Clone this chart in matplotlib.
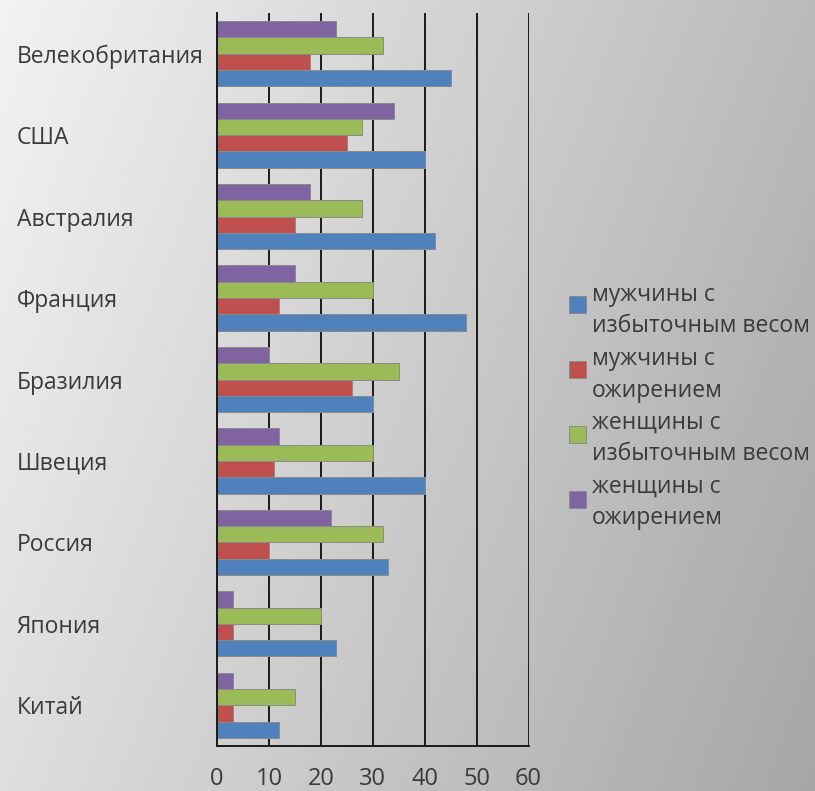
import numpy as np
import matplotlib
matplotlib.use("Agg")
import matplotlib.pyplot as plt
from matplotlib.patches import Rectangle

plt.rcParams["font.family"] = ["Open Sans", "DejaVu Sans"]

countries = ["Велекобритания", "США", "Австралия", "Франция", "Бразилия",
             "Швеция", "Россия", "Япония", "Китай"]
men_overweight = [45, 40, 42, 48, 30, 40, 33, 23, 12]
men_obese = [18, 25, 15, 12, 26, 11, 10, 3, 3]
women_overweight = [32, 28, 28, 30, 35, 30, 32, 20, 15]
women_obese = [23, 34, 18, 15, 10, 12, 22, 3, 3]
series_labels = ["мужчины с\nизбыточным весом", "мужчины с\nожирением",
                 "женщины с\nизбыточным весом", "женщины с\nожирением"]
x_ticks = [0, 10, 20, 30, 40, 50, 60]

colors = ["#4F81BD", "#C0504D", "#9BBB59", "#8064A2"]
text_color = "#3a3a3a"
W, H = 815, 791

fig = plt.figure(figsize=(W / 100, H / 100), dpi=100)

# gradient background over the whole figure
bg = fig.add_axes([0, 0, 1, 1], zorder=-10)
gx, gy = np.meshgrid(np.linspace(0, 1, 400), np.linspace(0, 1, 400))
shade = 0.95 - 0.22 * gx - 0.08 * gy
bg.imshow(shade, cmap="gray", vmin=0, vmax=1, extent=[0, 1, 1, 0], aspect="auto")
bg.axis("off")

ax = fig.add_axes([217 / W, 1 - 746 / H, 311.5 / W, 733 / H])
ax.set_facecolor("none")

y = np.arange(len(countries))
w = 0.2
data = [men_overweight, men_obese, women_overweight, women_obese]
offsets = [1.5 * w, 0.5 * w, -0.5 * w, -1.5 * w]
for vals, off, col in zip(data, offsets, colors):
    ax.barh(y + off, vals, height=w, color=col, edgecolor="#8a8a8a",
            linewidth=0.7, zorder=3)

ax.set_xlim(0, 60)
ax.set_ylim(-0.5, len(countries) - 0.5)
ax.invert_yaxis()
ax.set_xticks(x_ticks)
ax.set_xticklabels([str(t) for t in x_ticks])
ax.set_yticks(y)
ax.set_yticklabels(countries, ha="left")
ax.tick_params(axis="y", length=0, pad=144, labelsize=16.5, labelcolor=text_color)
ax.tick_params(axis="x", length=0, pad=15, labelsize=17, labelcolor=text_color)
ax.xaxis.grid(True, color="#1a1a1a", linewidth=1.4, zorder=1)
ax.set_axisbelow(True)
for side in ["top", "right"]:
    ax.spines[side].set_visible(False)
for side in ["left", "bottom"]:
    ax.spines[side].set_color("#1a1a1a")
    ax.spines[side].set_linewidth(1.4)
    ax.spines[side].set_zorder(4)

# legend drawn by hand to get the wide two-line spacing of the original
for i, (lab, col) in enumerate(zip(series_labels, colors)):
    base = 301 + 64 * i
    sq_top = 296 + 65 * i
    fig.add_artist(Rectangle((569 / W, 1 - (sq_top + 17) / H), 17 / W, 17 / H,
                             transform=fig.transFigure, facecolor=col,
                             edgecolor="#8a8a8a", linewidth=0.7))
    for j, line in enumerate(lab.split("\n")):
        fig.text(592 / W, 1 - (base + 31.5 * j) / H, line, fontsize=16.5,
                 color=text_color, ha="left", va="baseline")

fig.savefig("out.png", dpi=100)
